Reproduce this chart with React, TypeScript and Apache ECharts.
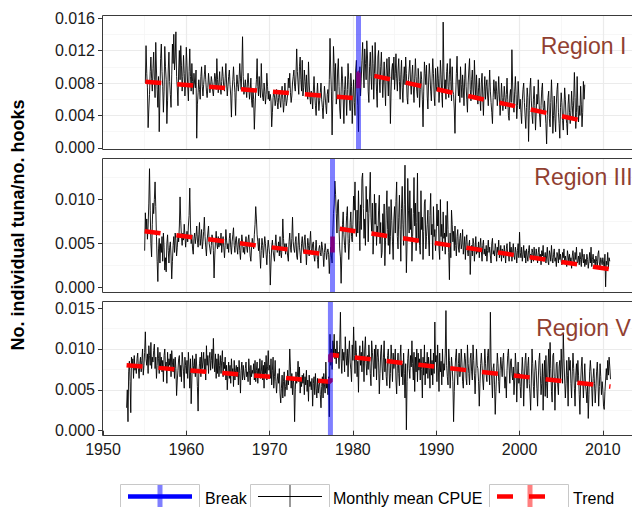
import React, { useEffect, useRef } from "react";
import * as echarts from "echarts";

const FONT = "'Liberation Sans', Arial, Helvetica, sans-serif";

// ---------- data ----------
const regionNames = ["Region I", "Region III", "Region V"];
const xLimits = [1950, 2013.5];
const xStep = 10;
const yLimits = [
  [-0.00025, 0.01625],
  [-0.0006, 0.0146],
  [-0.00065, 0.01575],
];
const yStep = [0.004, 0.005, 0.005];
const yTickValues = [
  [0, 0.004, 0.008, 0.012, 0.016],
  [0, 0.005, 0.01],
  [0, 0.005, 0.01, 0.015],
];
const breakYears = [1980.67, 1977.55, 1977.3];
// first month of each monthly series (decimal year)
const seriesStart = [1955 + 1 / 12, 1955, 1952 + 10 / 12];
// monthly mean CPUE values are stored in units of 1e-4 tuna per hook
const cpueUnit = 10000;

const cpueI = [
  80,126,92,74,25,48,66,94,112,86,70,98,
  118,84,62,130,96,72,50,88,20,64,110,128,
  94,76,44,70,125,100,84,30,58,96,118,82,
  66,50,90,128,104,140,96,112,143,88,74,52,
  96,120,84,126,102,70,88,114,92,64,80,124,
  102,76,58,94,122,88,70,104,82,66,92,80,
  74,96,12,54,68,84,72,60,88,100,76,64,
  78,90,102,84,70,62,74,92,80,68,76,88,
  82,70,64,78,92,86,72,110,84,68,80,94,
  74,66,82,100,88,74,70,86,104,80,64,76,
  88,96,78,64,38,70,84,100,82,68,40,74,
  90,78,70,84,104,86,72,96,137,88,66,74,
  84,72,62,80,92,76,60,70,86,58,50,72,
  60,23,48,70,84,110,76,64,88,72,62,104,
  74,62,58,80,70,54,66,92,76,60,70,58,
  66,58,26,44,62,70,64,52,60,72,56,48,
  62,70,58,50,66,76,60,44,56,80,64,52,
  58,66,86,74,92,68,56,64,80,88,96,76,
  70,90,122,94,80,66,100,112,84,70,108,64,
  74,96,82,66,90,70,60,106,80,64,54,70,
  62,48,70,88,66,52,40,64,80,62,46,58,
  68,80,60,50,36,58,76,64,52,42,66,72,
  56,84,135,96,70,16,60,125,100,70,104,54,
  64,96,110,76,48,36,70,100,86,60,30,72,
  88,66,40,72,104,84,58,46,92,76,30,62,
  84,56,40,96,108,70,52,20,80,100,64,85,
  108,130,96,74,122,104,84,132,112,70,56,100,
  118,88,72,126,104,60,92,130,96,70,50,112,
  120,84,68,100,118,90,62,84,106,80,52,96,
  110,86,64,112,90,30,70,96,104,84,112,72,
  92,116,86,70,96,110,82,60,90,108,74,56,
  86,100,78,112,92,62,54,84,96,108,80,66,
  90,102,74,56,86,110,88,70,62,98,84,50,
  72,94,84,60,26,70,106,92,78,102,64,48,
  80,104,90,70,58,86,110,92,64,52,98,76,
  70,100,86,56,72,108,90,66,50,155,96,72,
  84,60,94,104,76,62,90,110,82,58,100,70,
  66,48,18,64,92,113,80,64,84,56,100,78,
  62,90,74,52,86,104,76,60,44,80,96,110,
  72,58,84,96,70,62,108,80,60,90,66,54,
  74,86,62,46,80,92,64,40,70,88,60,76,
  84,64,52,74,96,70,56,44,30,62,84,70,
  60,82,70,52,66,88,64,40,56,80,62,46,
  58,76,62,48,66,86,60,40,34,64,72,56,
  121,80,56,44,70,88,66,36,52,82,64,48,
  60,44,30,58,72,80,56,40,24,50,74,62,
  8,46,74,86,58,40,30,60,76,52,22,44,
  66,54,84,60,38,26,52,72,80,50,42,58,
  44,30,5,40,62,70,36,26,56,84,60,18,
  40,64,36,20,54,72,80,44,30,12,50,68,
  56,34,22,48,74,60,38,30,16,54,66,44,
  30,46,70,52,36,58,93,62,24,44,88,50,
  32,52,40,76,54,26,44,82,60,78,
];

const cpueIII = [
  42,85,64,78,55,70,96,135,88,50,35,72,
  96,84,100,120,92,58,30,7,44,56,28,50,
  40,58,30,62,46,20,34,18,50,60,42,28,
  46,52,36,10,30,48,58,40,62,54,36,46,
  60,52,70,103,76,58,48,62,54,72,60,46,
  56,64,52,70,82,113,70,50,60,44,38,56,
  62,50,58,70,54,46,60,74,48,56,66,44,
  52,64,80,58,46,36,54,62,70,50,44,38,
  48,60,56,42,11,36,52,64,50,44,58,46,
  56,48,62,40,52,58,46,34,48,66,54,44,
  50,40,56,62,46,38,52,60,68,48,40,54,
  58,46,38,52,56,42,32,48,60,52,40,46,
  38,50,58,46,40,54,60,48,36,30,46,56,
  50,44,60,72,92,78,60,52,42,56,38,22,
  42,56,48,34,46,58,50,38,26,44,54,46,
  38,3,28,46,54,42,36,30,48,60,46,40,
  44,52,36,58,40,34,48,78,56,42,50,38,
  50,44,36,30,52,62,46,40,56,80,52,44,
  40,52,58,36,32,48,62,46,38,28,50,58,
  46,40,54,60,44,26,42,56,48,36,52,64,
  44,38,50,52,36,30,42,54,40,32,22,44,
  48,40,36,52,46,38,24,40,50,42,32,40,
  44,38,16,34,46,36,28,60,84,95,121,106,
  84,62,96,100,66,44,35,5,36,72,86,60,
  48,40,64,82,92,56,32,50,74,86,58,52,
  72,104,88,120,70,58,88,62,110,76,42,94,
  66,124,130,90,56,78,48,115,86,100,52,84,
  104,131,80,64,96,38,60,106,72,96,48,70,
  60,88,105,50,74,34,40,84,62,95,25,54,
  88,110,66,48,92,38,58,100,76,52,32,78,
  92,62,98,120,58,44,80,105,66,30,90,115,
  72,48,94,139,70,17,50,124,88,62,110,66,
  90,30,58,84,125,70,96,42,74,130,52,86,
  48,38,110,66,80,32,64,96,100,44,58,72,
  88,54,36,82,107,60,72,32,92,58,66,42,
  62,95,70,88,44,32,100,58,72,42,86,56,
  62,38,82,58,98,66,40,9,62,34,88,72,
  52,64,42,70,48,36,58,66,45,40,56,62,
  44,50,66,38,46,58,32,52,60,42,36,48,
  54,15,40,48,36,56,50,30,44,58,38,46,
  40,52,34,46,56,42,30,48,54,38,44,36,
  48,30,42,54,40,46,36,28,50,56,38,42,
  36,50,44,30,46,40,54,34,38,48,30,44,
  42,34,48,38,28,44,50,36,40,30,52,38,
  46,30,40,50,36,32,46,40,28,42,50,34,
  63,40,34,46,30,38,48,34,42,28,44,36,
  30,42,48,34,38,28,44,40,30,46,36,32,
  44,36,28,40,46,32,38,26,42,36,48,30,
  34,40,28,36,46,30,26,42,38,30,48,34,
  28,38,44,30,34,24,40,36,28,44,32,38,
  30,26,40,34,44,28,36,30,24,42,36,30,
  38,28,34,22,36,42,30,26,40,32,46,28,
  30,36,26,40,32,24,44,34,28,38,24,32,
  26,38,32,22,30,40,28,46,24,32,38,28,
  32,24,36,30,22,38,42,28,24,34,30,26,
  34,28,20,38,1,30,26,40,22,34,30,
];

const cpueV = [
  28,50,
  11,72,85,60,22,90,78,88,64,92,74,80,
  70,88,95,76,64,82,90,72,86,100,68,80,
  96,121,88,80,94,70,104,92,80,108,76,90,
  84,98,106,76,90,64,80,102,88,70,96,78,
  90,72,86,60,92,100,78,84,58,96,74,88,
  80,94,66,98,84,72,88,64,90,76,43,62,
  74,88,92,66,80,60,96,84,72,52,90,80,
  70,86,64,96,78,52,88,33,62,92,80,70,
  88,66,94,78,54,24,70,82,90,66,96,76,
  84,96,72,88,62,104,80,92,70,88,96,74,
  86,100,76,113,84,72,94,64,88,70,94,66,
  80,92,70,86,98,66,84,76,90,62,80,50,
  70,84,64,80,58,88,72,76,54,86,62,74,
  80,66,78,56,86,70,46,74,84,62,80,68,
  62,76,84,66,72,60,88,74,56,80,66,74,
  70,82,62,86,60,74,84,58,76,66,88,64,
  72,86,62,80,52,84,70,92,62,78,98,74,
  80,64,88,56,74,90,52,66,86,60,46,62,
  70,58,76,46,34,52,68,40,60,72,42,54,
  62,50,74,56,68,100,78,52,70,44,64,56,
  11,50,72,58,66,85,60,78,46,62,54,68,
  58,70,44,66,56,74,48,62,36,68,54,60,
  50,64,30,58,66,44,70,52,40,64,46,56,
  60,44,28,54,66,40,70,56,46,84,52,60,
  44,66,17,118,80,100,75,110,95,118,88,100,
  82,110,90,96,76,105,145,88,70,100,86,96,
  72,115,92,80,100,66,95,110,84,75,60,105,
  86,127,92,70,110,96,66,85,47,90,104,80,
  96,72,110,88,60,100,115,82,68,92,75,105,
  88,70,55,110,96,84,66,100,76,105,62,90,
  100,84,45,70,95,105,78,62,90,110,72,88,
  66,55,92,100,78,52,70,105,88,60,95,76,
  84,100,62,45,80,95,70,55,90,105,66,82,
  56,95,70,40,82,1,60,88,100,76,64,92,
  78,110,82,62,96,48,90,72,100,60,95,74,
  88,62,100,75,40,90,68,105,56,84,70,96,
  64,90,76,52,100,68,86,56,95,70,133,84,
  92,60,105,78,48,95,72,85,56,100,66,82,
  74,95,147,80,66,56,100,86,52,72,90,78,
  60,11,48,74,90,100,70,56,82,95,66,74,
  100,84,60,52,78,95,88,64,56,105,82,70,
  56,88,95,72,62,105,86,68,45,70,100,80,
  76,60,30,58,82,95,80,62,50,74,100,82,
  68,60,92,100,72,56,145,84,62,40,76,82,
  56,20,48,72,95,82,60,46,74,90,78,66,
  86,95,68,52,66,40,74,92,100,78,58,84,
  88,70,62,78,44,62,95,78,35,66,84,58,
  70,54,40,68,90,72,30,62,86,95,68,52,
  80,90,58,46,25,62,100,82,54,40,72,86,
  74,52,30,62,86,95,68,44,58,82,25,66,
  86,42,92,58,40,78,100,62,108,76,48,35,
  92,95,66,25,58,82,84,56,44,78,86,62,
  100,78,58,120,88,62,40,58,86,68,30,90,
  74,86,58,40,72,95,76,52,30,68,82,60,
  86,68,44,20,58,78,90,62,40,62,82,56,
  48,34,58,15,44,72,86,72,52,30,64,76,
  58,34,52,72,84,62,30,54,82,66,44,60,
  50,30,26,48,62,76,62,86,68,90,78,63,
];

// piecewise linear trend: [year, value] (jump at the break)
const trendI = [[1955.08, 0.00816], [1980.67, 0.0061], [1980.67, 0.0093], [2007.83, 0.0033]];
const trendIII = [[1955.0, 0.0064], [1977.55, 0.0037], [1977.55, 0.0068], [2010.83, 0.0021]];
const trendV = [[1952.83, 0.008], [1977.3, 0.006], [1977.3, 0.0093], [2010.92, 0.0054]];

const yAxisTitle = "No. individual tuna/no. hooks";
const legendLabels = ["Break", "Monthly mean CPUE", "Trend"];

// ---------- layout ----------
const GRID_LEFT = 103;
const GRID_TOPS = [16, 159, 302];
const GRID_HEIGHT = 134;
const LABEL_POS = [
  [583.5, 45.5],
  [583.5, 176.7],
  [583.5, 328.3],
];
const LEGEND_BOX_X = [120, 250, 489];
const LEGEND_TEXT_X = [205, 333, 573];

const cpueAll = [cpueI, cpueIII, cpueV];
const trendAll = [trendI, trendIII, trendV];

function buildOption() {
  const grids = GRID_TOPS.map((t) => ({
    left: GRID_LEFT,
    top: t,
    right: 0,
    height: GRID_HEIGHT,
    show: false,
    containLabel: false,
  }));

  const gridLine = { color: "#ebebeb", width: 1.2 };
  const minorLine = { color: "#f3f3f3", width: 0.7 };

  const xAxes = GRID_TOPS.map((_, i) => ({
    type: "value",
    gridIndex: i,
    min: xLimits[0],
    max: xLimits[1],
    interval: xStep,
    axisLine: { show: false },
    axisTick: {
      show: i === 2,
      length: 5,
      lineStyle: { color: "#333333", width: 1 },
    },
    axisLabel: {
      show: i === 2,
      color: "#1a1a1a",
      fontSize: 16,
      fontFamily: FONT,
      margin: 5,
      showMinLabel: true,
      showMaxLabel: false,
      formatter: (v: number) => String(Math.round(v)),
    },
    splitLine: { show: true, lineStyle: gridLine, showMinLine: false, showMaxLine: false },
    minorTick: { show: false, splitNumber: 2 },
    minorSplitLine: { show: true, lineStyle: minorLine },
  }));

  const yAxes = GRID_TOPS.map((_, i) => ({
    type: "value",
    gridIndex: i,
    min: yLimits[i][0],
    max: yLimits[i][1],
    minInterval: yStep[i],
    maxInterval: yStep[i],
    splitNumber: 4,
    axisLine: { show: false },
    axisTick: {
      show: true,
      length: 5,
      lineStyle: { color: "#333333", width: 1 },
      customValues: yTickValues[i],
    },
    axisLabel: {
      color: "#1a1a1a",
      fontSize: 16,
      fontFamily: FONT,
      margin: 8,
      showMinLabel: false,
      showMaxLabel: false,
      formatter: (v: number) => v.toFixed(3),
    },
    splitLine: { show: true, lineStyle: gridLine, showMinLine: false, showMaxLine: false },
    minorTick: { show: false, splitNumber: 2 },
    minorSplitLine: { show: true, lineStyle: minorLine },
  }));

  const series: any[] = [];
  GRID_TOPS.forEach((_, i) => {
    series.push({
      type: "line",
      name: legendLabels[1],
      xAxisIndex: i,
      yAxisIndex: i,
      data: cpueAll[i].map((v, k) => [seriesStart[i] + k / 12, v / cpueUnit]),
      symbol: "none",
      showSymbol: false,
      lineStyle: { color: "#000000", width: 0.9 },
      z: 2,
      silent: true,
    });
    series.push({
      type: "line",
      name: legendLabels[2],
      xAxisIndex: i,
      yAxisIndex: i,
      data: trendAll[i],
      symbol: "none",
      showSymbol: false,
      lineStyle: { color: "#ff0000", width: 4.5, type: [16, 16], cap: "butt" },
      z: 3,
      silent: true,
    });
    series.push({
      type: "line",
      name: legendLabels[0],
      xAxisIndex: i,
      yAxisIndex: i,
      data: [
        [breakYears[i], yLimits[i][0]],
        [breakYears[i], yLimits[i][1]],
      ],
      symbol: "none",
      showSymbol: false,
      lineStyle: { color: "rgba(0,0,255,0.5)", width: 5, cap: "butt" },
      z: 4,
      silent: true,
    });
  });

  const txt = (text: string, x: number, y: number, extra: any = {}) => ({
    type: "text",
    x,
    y,
    z: 120,
    silent: true,
    style: {
      text,
      fontFamily: FONT,
      fontSize: 16,
      fill: "#000000",
      align: "left",
      textAlign: "left",
      verticalAlign: "middle",
      textVerticalAlign: "middle",
      ...extra,
    },
  });

  const graphics: any[] = [];
  // panel borders (right side runs past the page edge)
  GRID_TOPS.forEach((t) => {
    graphics.push({
      type: "rect",
      z: 100,
      silent: true,
      shape: { x: GRID_LEFT - 0.5, y: t - 0.5, width: 545, height: GRID_HEIGHT },
      style: { fill: "none", stroke: "#3a3a3a", lineWidth: 1 },
    });
  });
  // region labels
  regionNames.forEach((name, i) => {
    graphics.push(
      txt(name, LABEL_POS[i][0], LABEL_POS[i][1], {
        fontSize: 23,
        fill: "#913f31",
        align: "center",
        textAlign: "center",
      })
    );
  });
  // y axis title
  graphics.push({
    ...txt(yAxisTitle, 17.5, 225, {
      fontSize: 18,
      fontWeight: "bold",
      align: "center",
      textAlign: "center",
    }),
    rotation: Math.PI / 2,
  });

  // legend
  const ly = 496.5;
  LEGEND_BOX_X.forEach((bx, i) => {
    graphics.push({
      type: "rect",
      z: 110,
      silent: true,
      shape: { x: bx + 0.5, y: 484.5, width: 79, height: 30 },
      style: { fill: "#ffffff", stroke: "#c8c8c8", lineWidth: 1 },
    });
    const cx = bx + 40;
    if (i === 0) {
      graphics.push({
        type: "line", z: 111, silent: true,
        shape: { x1: cx, y1: 485, x2: cx, y2: 515 },
        style: { stroke: "rgba(0,0,255,0.5)", lineWidth: 5 },
      });
      graphics.push({
        type: "line", z: 112, silent: true,
        shape: { x1: bx + 8, y1: ly, x2: bx + 72, y2: ly },
        style: { stroke: "#0000ff", lineWidth: 4.5 },
      });
    } else if (i === 1) {
      graphics.push({
        type: "line", z: 111, silent: true,
        shape: { x1: cx, y1: 485, x2: cx, y2: 515 },
        style: { stroke: "#000000", lineWidth: 0.8 },
      });
      graphics.push({
        type: "line", z: 112, silent: true,
        shape: { x1: bx + 8, y1: ly, x2: bx + 72, y2: ly },
        style: { stroke: "#000000", lineWidth: 1 },
      });
    } else {
      graphics.push({
        type: "line", z: 111, silent: true,
        shape: { x1: cx + 1, y1: 485, x2: cx + 1, y2: 515 },
        style: { stroke: "rgba(255,0,0,0.5)", lineWidth: 5 },
      });
      graphics.push({
        type: "line", z: 112, silent: true,
        shape: { x1: bx + 8, y1: ly, x2: bx + 72, y2: ly },
        style: { stroke: "#ff0000", lineWidth: 4.5, lineDash: [16, 16] },
      });
    }
    graphics.push(txt(legendLabels[i], LEGEND_TEXT_X[i], 498.5));
  });

  return {
    animation: false,
    backgroundColor: "#ffffff",
    textStyle: { fontFamily: FONT },
    grid: grids,
    xAxis: xAxes,
    yAxis: yAxes,
    series,
    graphic: graphics,
  };
}

export default function App() {
  const ref = useRef<HTMLDivElement>(null);
  useEffect(() => {
    if (!ref.current) return;
    const chart = echarts.init(ref.current, undefined, { renderer: "svg" });
    chart.setOption(buildOption() as any);
    return () => chart.dispose();
  }, []);
  return (
    <div
      ref={ref}
      style={{ position: "fixed", left: 0, top: 0, width: 632, height: 507, background: "#fff" }}
    />
  );
}
